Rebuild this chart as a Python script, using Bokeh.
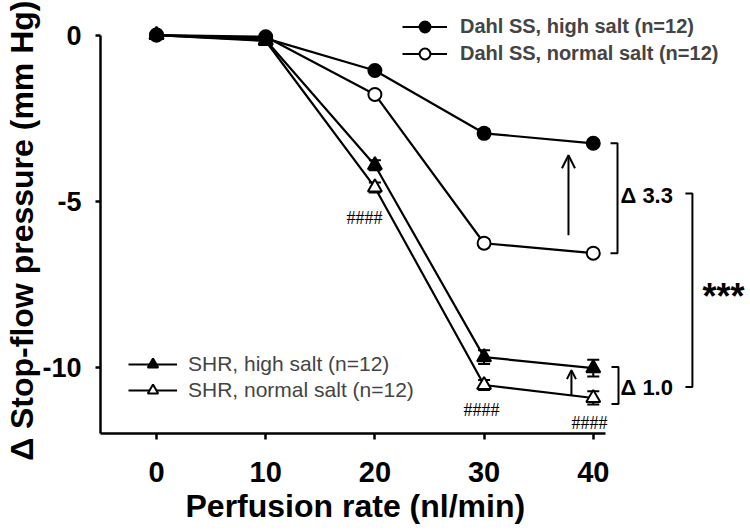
import math
from bokeh.plotting import figure
from bokeh.models import (Legend, LegendItem, Label, Arrow, OpenHead, Range1d,
                          FixedTicker, Title)
from bokeh.embed import file_html
from bokeh.resources import INLINE

# ---- data ----
rates = [0, 10, 20, 30, 40]
dahl_high = [0.0, -0.10, -1.07, -2.96, -3.26]
dahl_high_sem = [0.05, 0.05, 0.10, 0.12, 0.10]
dahl_normal = [0.0, -0.05, -1.79, -6.27, -6.57]
dahl_normal_sem = [0.05, 0.05, 0.10, 0.12, 0.10]
shr_high = [0.0, -0.15, -3.92, -9.70, -10.03]
shr_high_sem = [0.05, 0.08, 0.15, 0.21, 0.25]
shr_normal = [0.0, -0.18, -4.59, -10.54, -10.93]
shr_normal_sem = [0.05, 0.08, 0.15, 0.15, 0.20]
x_ticks = [0, 10, 20, 30, 40]
y_ticks = [0, -5, -10]
y_tick_labels = {0: "0", -5: "-5", -10: "-10"}

FONT = "Liberation Sans"

p = figure(width=750, height=530, output_backend="svg", toolbar_location=None,
           x_range=Range1d(-5.13, 54.4), y_range=Range1d(-12, 1.04),
           min_border_left=100, min_border_right=0, min_border_top=0,
           min_border_bottom=97)
p.outline_line_color = None
p.grid.visible = False
p.background_fill_color = "white"

for ax in (p.xaxis[0], p.yaxis[0]):
    ax.axis_line_width = 2.5
    ax.major_tick_line_width = 2.5
    ax.major_tick_out = 6
    ax.major_tick_in = 0
    ax.minor_tick_line_color = None
    ax.major_label_text_font = FONT
    ax.major_label_text_font_style = "bold"
    ax.major_label_text_color = "black"
    ax.axis_line_color = "black"
    ax.major_tick_line_color = "black"

p.xaxis.ticker = FixedTicker(ticks=x_ticks)
p.yaxis.ticker = FixedTicker(ticks=y_ticks)
p.yaxis.major_label_overrides = y_tick_labels
p.xaxis.bounds = (-5.13, 41.1)
p.yaxis.bounds = (-12, 0)
p.xaxis.major_label_text_font_size = "29px"
p.yaxis.major_label_text_font_size = "27px"
p.xaxis.major_label_standoff = 22
p.yaxis.major_label_standoff = 14
p.yaxis.major_tick_out = 5

# axis titles
p.add_layout(Title(text="Perfusion rate (nl/min)", align="left", offset=85,
                   standoff=2, text_font=FONT, text_font_style="bold",
                   text_font_size="32px", text_color="black"), "below")
p.add_layout(Title(text="\u0394 Stop-flow pressure (mm Hg)", align="right",
                   offset=0, standoff=0, text_font=FONT,
                   text_font_style="bold", text_font_size="32px",
                   text_color="black"), "left")


def errorbars(vals, sems):
    lo = [v - s for v, s in zip(vals, sems)]
    hi = [v + s for v, s in zip(vals, sems)]
    p.segment(x0=rates, y0=lo, x1=rates, y1=hi, line_width=2, line_color="black")
    cl = [r - 0.55 for r in rates]
    cr = [r + 0.55 for r in rates]
    p.segment(x0=cl, y0=hi, x1=cr, y1=hi, line_width=2, line_color="black")
    p.segment(x0=cl, y0=lo, x1=cr, y1=lo, line_width=2, line_color="black")


series = [
    ("SHR, normal salt (n=12)", shr_normal, shr_normal_sem, "triangle", "white"),
    ("SHR, high salt (n=12)", shr_high, shr_high_sem, "triangle", "black"),
    ("Dahl SS, normal salt (n=12)", dahl_normal, dahl_normal_sem, "circle", "white"),
    ("Dahl SS, high salt (n=12)", dahl_high, dahl_high_sem, "circle", "black"),
]

for _, vals, sems, _, _ in series:
    errorbars(vals, sems)

lines = {}
for name, vals, _, _, _ in series:
    lines[name] = p.line(rates, vals, line_width=2.2, line_color="black")

marks = {}
for name, vals, _, marker, fill in series:
    sz = 13 if marker == "circle" else 14
    marks[name] = p.scatter(rates, vals, marker=marker, size=sz, fill_color=fill,
                            line_color="black", line_width=2)


def item(name):
    return LegendItem(label=name, renderers=[lines[name], marks[name]])


leg_top = Legend(items=[item("Dahl SS, high salt (n=12)"),
                        item("Dahl SS, normal salt (n=12)")],
                 location=(302, 366), glyph_width=45, glyph_height=27,
                 label_height=27, spacing=-4, padding=0, margin=0,
                 label_standoff=13, border_line_alpha=0,
                 background_fill_alpha=0, label_text_font=FONT,
                 label_text_font_style="bold", label_text_font_size="20px")
leg_bot = Legend(items=[item("SHR, high salt (n=12)"),
                        item("SHR, normal salt (n=12)")],
                 location=(28, 30), glyph_width=49, glyph_height=26,
                 label_height=26, spacing=-2, padding=0, margin=0,
                 label_standoff=11, border_line_alpha=0,
                 background_fill_alpha=0, label_text_font=FONT,
                 label_text_font_style="normal", label_text_font_size="21px")
p.add_layout(leg_top)
p.add_layout(leg_bot)

# significance marks
for x, y in [(19.05, -5.52), (29.76, -11.29), (39.65, -11.68)]:
    p.add_layout(Label(x=x, y=y, text="####", text_align="center",
                       text_baseline="middle", text_font="Liberation Serif",
                       text_font_size="18px", text_color="black"))

# arrows
p.add_layout(Arrow(end=OpenHead(size=13, line_width=2, line_color="black"),
                   x_start=37.73, y_start=-6.03, x_end=37.73, y_end=-3.62,
                   line_width=2, line_color="black"))
p.add_layout(Arrow(end=OpenHead(size=9, line_width=2, line_color="black"),
                   x_start=38.0, y_start=-10.84, x_end=38.0, y_end=-10.09,
                   line_width=2, line_color="black"))

# brackets
p.line([41.58, 42.22, 42.22, 41.58], [-3.26, -3.26, -6.57, -6.57],
       line_width=2, line_color="black")
p.line([41.67, 42.31, 42.31, 41.67], [-10.0, -10.0, -11.11, -11.11],
       line_width=2, line_color="black")
p.line([48.44, 49.08, 49.08, 48.44], [-4.77, -4.77, -10.6, -10.6],
       line_width=2, line_color="black")

for x, y, t in [(42.49, -4.83, "\u0394 3.3"), (42.49, -10.6, "\u0394 1.0")]:
    p.add_layout(Label(x=x, y=y, text=t, text_align="left", text_baseline="middle",
                       text_font=FONT, text_font_style="bold",
                       text_font_size="22px", text_color="black"))

p.add_layout(Label(x=50.0, y=-7.86, text="***", text_align="left",
                   text_baseline="middle", text_font=FONT, text_font_style="bold",
                   text_font_size="36px", text_color="black"))

open("out.html", "w").write(file_html(p, INLINE))
